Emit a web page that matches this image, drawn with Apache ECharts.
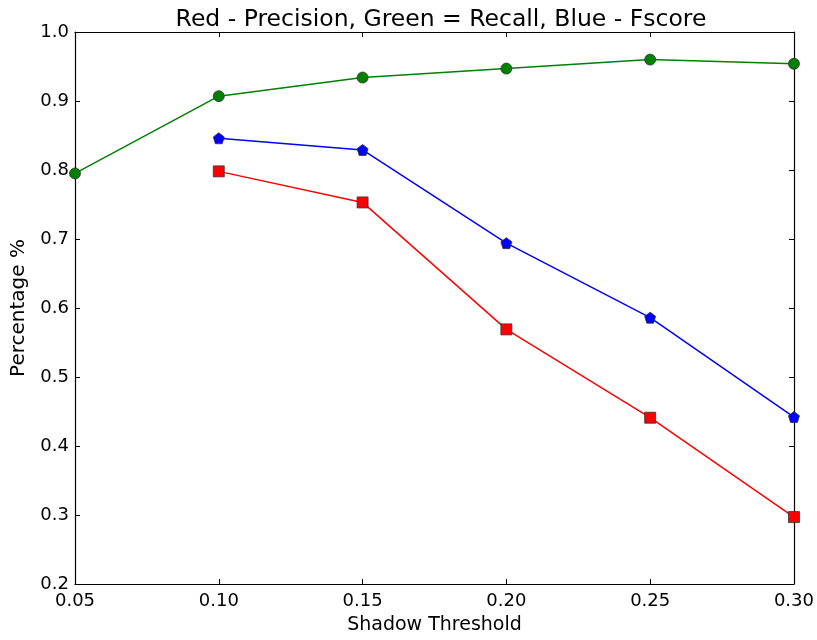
<!DOCTYPE html>
<html>
<head>
<meta charset="utf-8">
<script src="https://cdn.jsdelivr.net/npm/echarts@6/dist/echarts.min.js"></script>
<style>
  html, body { margin: 0; padding: 0; background: #fff; }
  #chart { width: 817px; height: 640px; }
</style>
</head>
<body>
<div id="chart"></div>
<script>
// Shadow threshold values on the x axis
const thresholds = [0.05, 0.10, 0.15, 0.20, 0.25, 0.30];
// Measured scores per threshold (null where not computed)
const precision = [null, 0.798, 0.753, 0.569, 0.441, 0.297];
const recall    = [0.795, 0.907, 0.934, 0.947, 0.960, 0.954];
const fscore    = [null, 0.846, 0.829, 0.694, 0.586, 0.442];

const xTicks = [0.05, 0.10, 0.15, 0.20, 0.25, 0.30];
const yTicks = [0.2, 0.3, 0.4, 0.5, 0.6, 0.7, 0.8, 0.9, 1.0];

const font = 'DejaVu Sans';
const pentagon = 'path://M0,-1 L0.951,-0.309 L0.588,0.809 L-0.588,0.809 L-0.951,-0.309 Z';

function pairs(vals) {
  return thresholds.map((x, i) => [x, vals[i]]);
}

function lineSeries(name, vals, color, symbol, size) {
  return {
    name: name,
    type: 'line',
    data: pairs(vals),
    connectNulls: false,
    symbol: symbol,
    symbolSize: size,
    showAllSymbol: true,
    clip: true,
    lineStyle: { color: color, width: 1.5 },
    itemStyle: { color: color, borderColor: '#333', borderWidth: 0.8, opacity: 1 },
    emphasis: { disabled: true },
    animation: false
  };
}

const baseX = {
  type: 'value',
  min: xTicks[0],
  max: xTicks[xTicks.length - 1],
  interval: 0.05,
  axisLine: { show: true, onZero: false, lineStyle: { color: '#000', width: 1.2 } },
  axisTick: { show: true, inside: true, length: 5, lineStyle: { color: '#000' } },
  splitLine: { show: false }
};
const baseY = {
  type: 'value',
  min: yTicks[0],
  max: yTicks[yTicks.length - 1],
  interval: 0.1,
  axisLine: { show: true, onZero: false, lineStyle: { color: '#000', width: 1.2 } },
  axisTick: { show: true, inside: true, length: 5, lineStyle: { color: '#000' } },
  splitLine: { show: false }
};

const chart = echarts.init(document.getElementById('chart'), null, { renderer: 'canvas' });
chart.setOption({
  backgroundColor: '#fff',
  animation: false,
  title: {
    text: 'Red - Precision, Green = Recall, Blue - Fscore',
    left: 436,
    textAlign: 'center',
    top: 3,
    textStyle: { fontFamily: font, fontSize: 23.5, fontWeight: 'normal', color: '#000' }
  },
  grid: { left: 75, right: 21, top: 32, bottom: 51, containLabel: false },
  xAxis: [
    Object.assign({}, baseX, {
      position: 'bottom',
      name: 'Shadow Threshold',
      nameLocation: 'middle',
      nameGap: 32,
      nameTextStyle: { fontFamily: font, fontSize: 19, color: '#000' },
      axisLabel: {
        fontFamily: font, fontSize: 18, color: '#000', margin: 8,
        formatter: v => v.toFixed(2)
      }
    }),
    Object.assign({}, baseX, { position: 'top', axisLabel: { show: false } })
  ],
  yAxis: [
    Object.assign({}, baseY, {
      position: 'left',
      name: 'Percentage %',
      nameLocation: 'middle',
      nameGap: 46,
      nameTextStyle: { fontFamily: font, fontSize: 20, color: '#000' },
      axisLabel: {
        fontFamily: font, fontSize: 18, color: '#000', margin: 6,
        formatter: v => v.toFixed(1)
      }
    }),
    Object.assign({}, baseY, { position: 'right', axisLabel: { show: false } })
  ],
  series: [
    lineSeries('Recall', recall, '#008000', 'circle', 11),
    lineSeries('Fscore', fscore, '#0000ff', pentagon, 11),
    lineSeries('Precision', precision, '#ff0000', 'rect', 11)
  ]
});
</script>
</body>
</html>
